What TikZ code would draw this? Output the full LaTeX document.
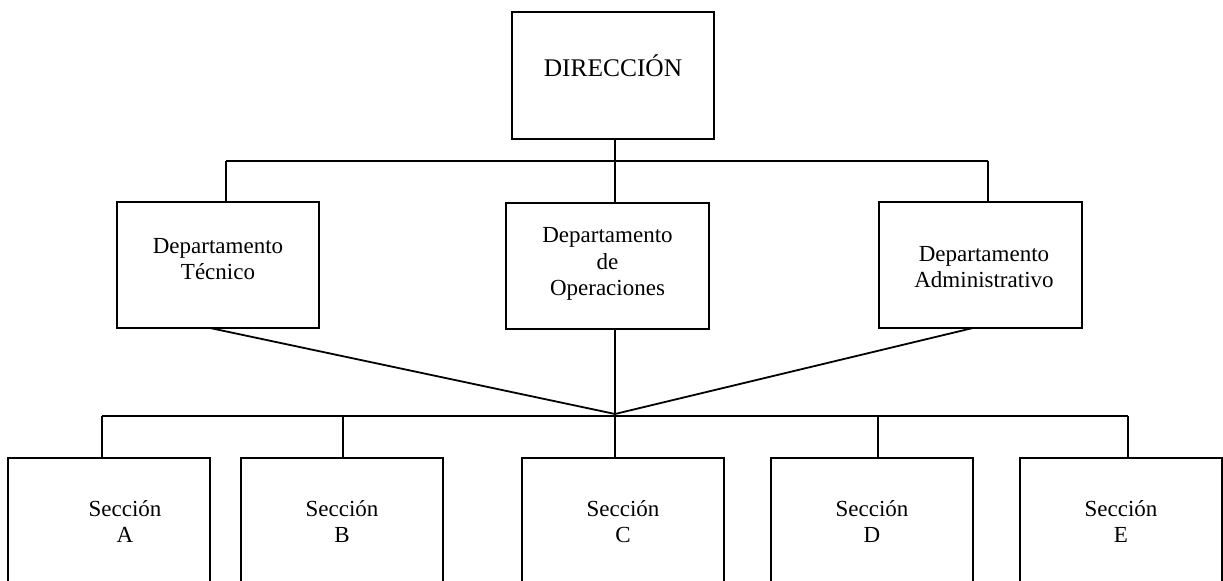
\documentclass[tikz,border=0pt]{standalone}
\usepackage{fontspec}
\setmainfont{Liberation Serif}
\begin{document}
\begin{tikzpicture}[x=0.5pt,y=-0.5pt,
  box/.style={draw,line width=0.9pt,inner sep=0pt,minimum width=#1*0.5pt},
  box/.default=202,
  lbl/.style={anchor=base,align=center,inner sep=0pt,font=\fontsize{11.5pt}{13.4pt}\selectfont},
  conn/.style={line width=0.9pt}]
\useasboundingbox (0,0) rectangle (1223,581);
\clip (0,0) rectangle (1223,581);
% boxes
\node[box, minimum height=63.5pt] (dir) at (613,75.5) {};
\node[box, minimum height=63pt] (tec) at (218,265) {};
\node[box=203, minimum height=63pt] (ops) at (607.5,266) {};
\node[box=203, minimum height=63pt] (adm) at (980.5,265) {};
\node[box, minimum height=91pt] (secA) at (109,549) {};
\node[box, minimum height=91pt] (secB) at (342,549) {};
\node[box, minimum height=91pt] (secC) at (623,549) {};
\node[box, minimum height=91pt] (secD) at (872,549) {};
\node[box, minimum height=91pt] (secE) at (1121,549) {};
% texts (base anchor = baseline of last line)
\node[lbl,font=\fontsize{12.7pt}{14pt}\selectfont] (tdir) at (613,77) {DIRECCIÓN};
\node[lbl] (ttec) at (218,280) {Departamento\\Técnico};
\node[lbl] (tops) at (607.5,296) {Departamento\\de\\Operaciones};
\node[lbl] (tadm) at (984,288) {Departamento\\Administrativo};
\node[lbl] (tA) at (125,543) {Sección\\A};
\node[lbl] (tB) at (342,543) {Sección\\B};
\node[lbl] (tC) at (623,543) {Sección\\C};
\node[lbl] (tD) at (872,543) {Sección\\D};
\node[lbl] (tE) at (1121,543) {Sección\\E};
% connector points
\coordinate (busL) at (226,161);
\coordinate (busR) at (988,161);
\coordinate (j) at (615,414);
\coordinate (lowL) at (102,416);
\coordinate (lowB) at (343,416);
\coordinate (lowD) at (878,416);
\coordinate (lowR) at (1128,416);
\coordinate (tecOut) at (210,328);
\coordinate (admOut) at (973,328);
% connectors
\draw[conn] (busL) -- (busR);
\draw[conn] (busL) -- (tec.north -| busL);
\draw[conn] (busR) -- (adm.north -| busR);
\draw[conn] (dir.south -| j) -- (ops.north -| j);
\draw[conn] (ops.south -| j) -- (j) -- (secC.north -| j);
\draw[conn] (tecOut) -- (j) -- (admOut);
\draw[conn] (lowL) -- (lowR);
\draw[conn] (lowL) -- (secA.north -| lowL);
\draw[conn] (lowB) -- (secB.north -| lowB);
\draw[conn] (lowD) -- (secD.north -| lowD);
\draw[conn] (lowR) -- (secE.north -| lowR);
\end{tikzpicture}
\end{document}
